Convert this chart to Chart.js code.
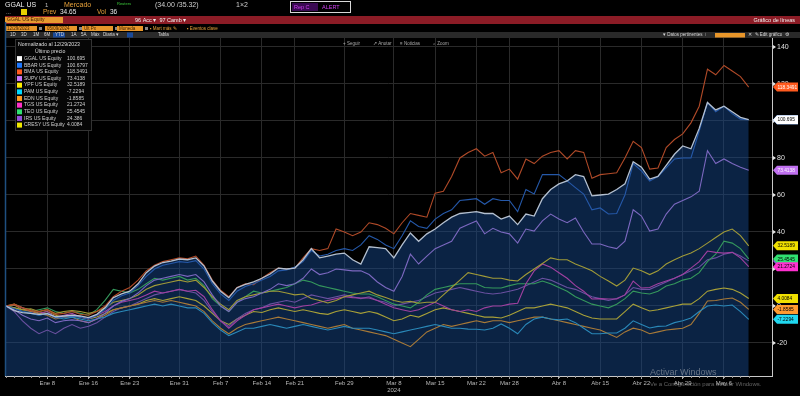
<!DOCTYPE html>
<html>
<head>
<meta charset="utf-8">
<script src="https://cdn.jsdelivr.net/npm/chart.js@4"></script>
<style>
  html, body { margin: 0; padding: 0; background: #000; }
  canvas { display: block; }
</style>
</head>
<body>
<canvas id="chart" width="800" height="396"></canvas>
<script>
// trading days, normalized at 12/29/2023
const dates = [
  'Dic 29', 'Ene 2', 'Ene 3', 'Ene 4', 'Ene 5', 'Ene 8', 'Ene 9', 'Ene 10', 'Ene 11', 'Ene 12',
  'Ene 16', 'Ene 17', 'Ene 18', 'Ene 19', 'Ene 22', 'Ene 23', 'Ene 24', 'Ene 25', 'Ene 26', 'Ene 29',
  'Ene 30', 'Ene 31', 'Feb 1', 'Feb 2', 'Feb 5', 'Feb 6', 'Feb 7', 'Feb 8', 'Feb 9', 'Feb 12',
  'Feb 13', 'Feb 14', 'Feb 15', 'Feb 16', 'Feb 20', 'Feb 21', 'Feb 22', 'Feb 23', 'Feb 26', 'Feb 27',
  'Feb 28', 'Feb 29', 'Mar 1', 'Mar 4', 'Mar 5', 'Mar 6', 'Mar 7', 'Mar 8', 'Mar 11', 'Mar 12',
  'Mar 13', 'Mar 14', 'Mar 15', 'Mar 18', 'Mar 19', 'Mar 20', 'Mar 21', 'Mar 22', 'Mar 25', 'Mar 26',
  'Mar 27', 'Mar 28', 'Abr 1', 'Abr 2', 'Abr 3', 'Abr 4', 'Abr 5', 'Abr 8', 'Abr 9', 'Abr 10',
  'Abr 11', 'Abr 12', 'Abr 15', 'Abr 16', 'Abr 17', 'Abr 18', 'Abr 19', 'Abr 22', 'Abr 23', 'Abr 24',
  'Abr 25', 'Abr 26', 'Abr 29', 'Abr 30', 'May 1', 'May 2', 'May 3', 'May 6', 'May 7', 'May 8', 'May 9'
];
const tickDates = ['Ene 8', 'Ene 16', 'Ene 23', 'Ene 31', 'Feb 7', 'Feb 14', 'Feb 21', 'Feb 29', 'Mar 8',
  'Mar 15', 'Mar 22', 'Mar 28', 'Abr 8', 'Abr 15', 'Abr 22', 'Abr 29', 'May 6'];
const yTicks = [-20, 0, 20, 40, 60, 80, 100, 120, 140];

const names = ['GGAL US Equity', 'BBAR US Equity', 'BMA US Equity', 'SUPV US Equity', 'YPF US Equity',
  'PAM US Equity', 'EDN US Equity', 'TGS US Equity', 'TEO US Equity', 'IRS US Equity', 'CRESY US Equity'];
const lastLabels = ['100.695', '100.6797', '118.3491', '73.4138', '32.5189', '-7.2294', '-1.8585',
  '21.2724', '25.4545', '24.386', '4.0084'];

const ggal = [0, -2.5, -3.6, -4, -4.5, -4.2, -5.9, -5.4, -5, -5.4,
  -6.3, -4.5, -1, 4.5, 6.5, 8, 12, 18, 21.6, 23.5,
  24.3, 25.4, 25, 26, 21.6, 13.5, 8, 4.5, 9.9, 11.7,
  13, 15, 17.3, 20.5, 20, 20.5, 25, 31, 26, 27,
  28, 28.6, 25, 22.7, 32, 31.5, 31, 26, 33, 39.5,
  35, 39, 41.6, 45, 48, 50, 50.5, 51, 50, 50,
  47, 48.6, 44, 49.7, 48.6, 58, 63, 66, 67.6, 71,
  70, 59.5, 60, 60.5, 63, 66, 78, 75, 68.6, 70,
  76, 82, 86.5, 85, 96, 110, 106, 108, 105, 102, 100.695];
const bbar = [0, -1.5, -3, -3.5, -5, -4, -6.5, -6, -5.5, -6,
  -7, -5, -2, 3, 5.5, 7, 11, 16, 20, 22,
  23, 24, 23.5, 24.5, 20, 12, 6.5, 3, 8, 10.5,
  12, 14, 16, 19, 19.5, 21, 24, 30, 27, 28,
  30, 31, 30, 33, 38, 36, 33, 31, 38, 46,
  43, 42, 47, 50, 52, 57, 57.5, 58, 55, 58,
  57, 57, 51, 63, 60.5, 71, 71, 71, 67.6, 64,
  60.5, 52, 53, 49.7, 50, 60, 77, 73, 67.6, 70,
  74.6, 79.5, 80, 80, 94.6, 110, 105, 108, 104, 101, 100.6797];
const bma = [0, 1, -1, -2.5, -3, -2, -4.5, -4, -3, -4.5,
  -5, -3, 0, 5, 8, 10, 14, 19, 22, 24,
  25, 26, 25.5, 27, 22, 14, 8.5, 5, 10, 12,
  11.5, 15, 18, 20.5, 20, 20.5, 26, 31, 30, 31,
  41.6, 40, 38, 40, 45, 44, 42, 39, 45, 50,
  49, 48, 61, 62, 70, 80, 83, 85, 81, 83,
  72, 74, 68.6, 79.5, 77, 81, 83, 84, 79.5, 84,
  83, 69, 71, 71.5, 72, 80, 89, 85.6, 74, 74.6,
  85.6, 90, 93, 99, 108, 128, 125, 130, 127, 124, 118.3491];
const supv = [0, -2, -5, -7, -8, -6.5, -9, -8, -7.5, -8,
  -9, -7, -4, 0, 2.5, 4, 7, 11, 14, 15,
  16, 17, 16, 17, 13, 6, 0, -3, 2, 4,
  5, 7, 9, 12, 11, 12, 15, 20, 17, 18,
  20, 19.5, 19, 19, 17, 13, 10, 8, 16, 28,
  22.7, 27, 31, 33, 35, 42, 44, 46, 39, 42,
  40, 39, 34, 41.6, 40.5, 46, 49.7, 47, 45, 47.6,
  40, 33.5, 33.5, 32, 31, 35, 52, 48.6, 40.5, 41.6,
  49.7, 55, 57, 59, 62, 84, 77, 79.5, 77, 75, 73.4138];
const ypf = [0, -1, -2, -1.5, -3, -2, -4, -3, -2.5, -3,
  -4, -3, -1, 2, 3, 4, 6, 9, 11, 12,
  13, 14, 13, 14, 10, 5, 1, -2, 3, 5,
  6, 7, 8, 8, 7, 6, 6.5, 4, 3, 1.6,
  3, 5, 6, 7, 8, 6, 4.6, 3, 2, 2.5,
  1.5, 2, 2, 6, 10, 14, 18, 17, 16, 15,
  15, 14, 13.5, 17, 20, 23, 26, 25, 25, 22.7,
  21, 19, 16, 13.5, 10.8, 14, 20.5, 19, 17, 19,
  22.7, 25, 27, 28.6, 31, 34, 37, 40, 41.6, 38, 32.5189];
const pam = [0, -1, -3, -4, -5, -4, -6, -7, -6, -7,
  -8, -7, -6, -4, -3, -2, -1, 0, 1, 0,
  1, 0, -1, -1, -4, -9, -13, -16, -14, -12,
  -12, -11, -10, -11, -12, -11, -10, -11, -12, -13,
  -12, -11, -12, -12, -12, -13, -14, -15, -14, -13,
  -12, -11, -10, -11, -12, -12, -12.5, -12.6, -13, -12,
  -9.7, -12, -15, -10, -7, -6, -7, -7.5, -7, -9,
  -12, -15, -15, -14.6, -14.6, -12, -8, -10, -11.9, -11,
  -10.8, -9, -8, -6.5, -3, 0, 0.5, 0, 0.5, -3, -7.2294];
const edn = [0, 0.5, -2, -3, -4, -5, -7, -6, -6, -8,
  -9, -7, -5, -2, -1, 0, 1, 2, 3, 2,
  3, 2, 1, 0, -3, -8, -12, -15, -12, -10,
  -9, -8, -7, -6, -7, -8, -9, -10, -11, -12,
  -11, -10, -12, -13, -14, -15, -16, -18, -20, -22,
  -18, -14, -12, -10, -11, -10, -9, -8, -9, -8,
  -8, -9, -8, -7, -6, -6, -7, -8, -9, -10,
  -11, -12, -13, -15, -17, -14, -12, -13, -15, -14,
  -13, -12.5, -12, -10, -4, 2.7, 3, 3.8, 4.3, 2, -1.8585];
const tgs = [0, 0.5, -1, -3, -4, -3, -6, -5, -4, -6,
  -7, -5, -3, 0, 2, 3, 4, 6, 8, 7,
  8, 9, 8, 8.5, 5, -2, -8, -12, -8, -5,
  -2, -1, 0, 1, 0, -1, 0, 0.5, 2, 3,
  4, 5, 4.5, 4.3, 4.3, 3, 1, -1, -2, -3,
  -2, 0, 2, 0, -2, -3, -2, -3, -1, 0,
  0, 1, 1.5, 12, 19, 22.7, 21, 18, 15, 11,
  8, 3.8, 4, 3.8, 3.8, 6, 13.5, 9.7, 10, 12,
  13.5, 15, 17, 20.5, 24, 29.7, 29, 28.6, 29, 26, 21.2724];
const teo = [0, -1, -2, -3, -2, -1, -3, -4, -3, -4,
  -5, -2, 3, 9, 8, 7, 9, 12, 15, 14,
  15, 16, 14, 15, 11, 4, 0, -3, 2, 5,
  8, 7, 8, 9, 10, 12, 14, 13, 11, 10,
  9, 8, 7, 6.5, 6.5, 5, 3, 1, 0, -1,
  2, 6, 9, 10, 11, 12, 12, 12, 10, 9.7,
  9.7, 11, 12, 12, 12, 13.5, 12, 10, 8, 5,
  3, 1, 0, -1, 1, 4, 8, 7, 6.5, 8,
  10.8, 12, 14, 15, 18, 24, 28, 35, 34, 31, 25.4545];
const irs = [0, -3, -8, -12, -15, -13, -15, -12, -10, -12,
  -11, -9, -6, -3, -1, 0, 2, 4, 6, 7,
  8, 9, 8, 7, 3, -3, -8, -11, -7, -4,
  -2, -1, 1, 2, 3, 2, 4, 6, 5, 4,
  5, 6, 5, 4, 5, 3, 2, 0, 1, 2,
  3, 5, 7, 8, 9, 10, 9, 8, 7, 6.5,
  7, 8, 9, 11, 13, 15, 14, 12, 10, 9,
  7, 5, 4, 3, 4, 6, 10, 9, 9, 11,
  13, 15, 17, 19, 21, 25, 26, 28, 29, 27, 24.386];
const cresy = [0, 1, -1, -2, -4, -3, -5, -6, -5, -6,
  -7, -6, -4, -2, -1, 0, 1, 3, 4, 3,
  4, 5, 4, 3, 0, -4, -8, -10, -7, -5,
  -3, -3.5, -2, -1, -2, -3, -2, -3, -4, -4.5,
  -3, -2, -3, -4, -3, -4, -6, -8, -7, -5,
  -6, -4, -2, -1, -2, -3, -4, -5, -6, -6,
  -6.5, -5, -3, -1, -1, 0, 1, 0, -1, -3,
  -5, -6.5, -7, -7, -7, -3, 1, -1, -2.7, -2,
  -1, 0, 1, 1, 4, 8, 9, 9.7, 9, 7, 4.0084];

const seriesList = [ggal, bbar, bma, supv, ypf, pam, edn, tgs, teo, irs, cresy];
const lineColors = ['#b4c0d0', '#2558a8', '#b04a28', '#7c68c0', '#a09a38', '#2a88b8',
  '#a87a38', '#a040a0', '#35985c', '#6a50a0', '#a8a038'];
const swatchColors = ['#ffffff', '#1e78ff', '#ff5a1e', '#c878ff', '#ffee00', '#00d8ff',
  '#ff9a1e', '#ff30c8', '#30e070', '#9650dc', '#f0e800'];
const tagColors = ['#ffffff', '#1e78ff', '#ff5a1e', '#c070f0', '#f0e000', '#20d8f0',
  '#ff9a30', '#ff30d0', '#30e070', '#9650dc', '#f0e000'];
const tagText = ['#000', '#fff', '#fff', '#fff', '#000', '#000', '#000', '#000', '#000', '#fff', '#000'];
const tagOrder = [1, 9, 0, 2, 3, 4, 8, 7, 10, 6, 5];

const FONT = "'Liberation Sans', Arial, sans-serif";

function txt(c, s, x, y, color, size, align) {
  c.fillStyle = color;
  c.font = size + 'px ' + FONT;
  c.textAlign = align || 'left';
  c.textBaseline = 'middle';
  c.fillText(s, x, y);
}

const bbgPlugin = {
  id: 'bbg',
  beforeDraw(chart) {
    const c = chart.ctx;
    c.save();
    c.fillStyle = '#000';
    c.fillRect(0, 0, chart.width, chart.height);
    c.restore();
  },
  afterDraw(chart) {
    const c = chart.ctx;
    const area = chart.chartArea;
    const xs = chart.scales.x, ys = chart.scales.y;
    c.save();

    // header row 1
    txt(c, 'GGAL US', 5, 5, '#f0f0f0', 7);
    txt(c, '1', 45, 5, '#bbb', 6);
    txt(c, 'Mercado', 64, 5, '#e8a23a', 7);
    txt(c, 'Reuters', 117, 3.5, '#3ccc3c', 4);
    txt(c, '(34.00 /35.32)', 155, 5, '#d0d0d0', 7);
    txt(c, '1×2', 236, 5, '#d0d0d0', 7);
    c.strokeStyle = '#d8d8d8';
    c.lineWidth = 1;
    c.strokeRect(290.5, 1.5, 60, 11);
    c.fillStyle = '#3a0a52';
    c.fillRect(292, 3, 26, 8);
    txt(c, 'Rep C', 294, 7, '#d040f0', 5.5);
    txt(c, 'ALERT', 322, 7, '#d040f0', 5.5);

    // header row 2
    txt(c, '...', 6, 12, '#ddd', 6);
    c.fillStyle = '#e8d000';
    c.fillRect(21, 9, 6, 6);
    txt(c, 'Prev', 43, 12.5, '#e8a23a', 6.5);
    txt(c, '34.65', 60, 12.5, '#e8e8e8', 6.5);
    txt(c, 'Vol', 97, 12.5, '#e8a23a', 6.5);
    txt(c, '36', 110, 12.5, '#e8e8e8', 6.5);

    // red bar
    c.fillStyle = '#8c1c26';
    c.fillRect(5, 16, 795, 8);
    c.fillStyle = '#e89a30';
    c.fillRect(5, 17, 58, 6);
    txt(c, 'GGAL US Equity', 7, 20, '#3a1e00', 5);
    txt(c, '96 Acc ▾  97 Camb ▾', 135, 20, '#f0f0f0', 5.5);
    txt(c, 'Gráfico de líneas', 795, 20, '#f0f0f0', 5.5, 'right');

    // input row
    const boxes = [[5, 32, '12/29/2023'], [45, 32, '05/09/2024'], [82, 31, 'Últ Px'], [117, 26, 'Moneda']];
    boxes.forEach(b => {
      c.fillStyle = '#e8962a';
      c.fillRect(b[0], 26, b[1], 5);
      txt(c, b[2], b[0] + 2, 28.6, '#3a1e00', 4.5);
      c.fillStyle = '#888';
      c.fillRect(b[0] + b[1] + 2, 27, 3, 3);
    });
    txt(c, '▪ Mart más ✎', 150, 28.6, '#e8a23a', 4.5);
    txt(c, '▪ Eventos clave', 187, 28.6, '#e8a23a', 4.5);

    // grey toolbar
    c.fillStyle = '#2a2a2a';
    c.fillRect(5, 32, 795, 6);
    c.fillStyle = '#1a4a9a';
    c.fillRect(53, 32.5, 12, 5);
    c.fillRect(127, 32.5, 6, 5);
    const btns = [['1D', 10], ['3D', 21], ['1M', 33], ['6M', 44], ['YTD', 55], ['1A', 71], ['5A', 81],
      ['Máx', 91], ['Diaria ▾', 103], ['Tabla', 158]];
    btns.forEach(b => txt(c, b[0], b[1], 35, '#d8d8d8', 4.5));
    txt(c, '▾ Datos pertinentes  ⁝', 663, 35, '#d8d8d8', 4.5);
    c.fillStyle = '#e8962a';
    c.fillRect(715, 33, 30, 4.5);
    txt(c, '✕  ✎ Edit gráfico  ⚙', 748, 35, '#d8d8d8', 4.5);

    // chart toolbar
    txt(c, '+ Seguir', 343, 43.5, '#aaa', 4.5);
    txt(c, '↗ Anotar', 373, 43.5, '#aaa', 4.5);
    txt(c, '≡ Noticias', 400, 43.5, '#aaa', 4.5);
    txt(c, '⌕ Zoom', 433, 43.5, '#aaa', 4.5);

    // left border
    c.strokeStyle = '#1f4f80';
    c.lineWidth = 1.5;
    c.beginPath();
    c.moveTo(area.left + 0.5, 22);
    c.lineTo(area.left + 0.5, area.bottom);
    c.stroke();

    // daily minor ticks on x axis
    c.strokeStyle = '#999';
    c.lineWidth = 1;
    dates.forEach((d, i) => {
      const x = Math.round(xs.getPixelForValue(i)) + 0.5;
      c.beginPath();
      c.moveTo(x, area.bottom);
      c.lineTo(x, area.bottom + 2);
      c.stroke();
    });

    // y tick markers
    c.fillStyle = '#e0e0e0';
    yTicks.forEach(v => {
      const y = ys.getPixelForValue(v);
      c.beginPath();
      c.moveTo(area.right + 1, y - 2);
      c.lineTo(area.right + 4, y);
      c.lineTo(area.right + 1, y + 2);
      c.fill();
    });

    // legend box
    c.fillStyle = '#060606';
    c.fillRect(15, 39, 77, 92);
    c.strokeStyle = '#333';
    c.strokeRect(15.5, 39.5, 76, 91);
    txt(c, 'Normalizado al 12/29/2023', 18, 45, '#ddd', 5.2);
    txt(c, 'Último precio', 35, 51.5, '#ddd', 5.2);
    names.forEach((n, k) => {
      const y = 58.5 + k * 6.65;
      c.fillStyle = swatchColors[k];
      c.fillRect(17, y - 2.4, 5, 5);
      txt(c, n, 24, y, '#d0d0d0', 5);
      txt(c, lastLabels[k], 67, y, '#d0d0d0', 5);
    });

    // last value tags
    tagOrder.forEach(k => {
      const vals = seriesList[k];
      const y = ys.getPixelForValue(vals[vals.length - 1]);
      const x0 = area.right + 1, x1 = 798;
      c.fillStyle = tagColors[k];
      c.beginPath();
      c.moveTo(x0, y);
      c.lineTo(x0 + 4, y - 4.5);
      c.lineTo(x1, y - 4.5);
      c.lineTo(x1, y + 4.5);
      c.lineTo(x0 + 4, y + 4.5);
      c.closePath();
      c.fill();
      txt(c, lastLabels[k], x0 + 4.5, y + 0.3, tagText[k], 4.8);
    });

    // watermark
    txt(c, 'Activar Windows', 650, 373, 'rgba(210,210,210,0.45)', 9);
    txt(c, 'Ve a Configuración para activar Windows.', 650, 384, 'rgba(210,210,210,0.45)', 6);

    c.restore();
  }
};

const datasets = seriesList.map((vals, k) => ({
  label: names[k],
  data: vals.map((v, i) => ({ x: i, y: v })),
  borderColor: lineColors[k],
  borderWidth: k === 0 ? 1.3 : 1.1,
  pointRadius: 0,
  tension: 0,
  fill: k === 0 ? 'start' : false,
  backgroundColor: k === 0 ? 'rgba(22,70,135,0.5)' : 'transparent'
}));

const ctx = document.getElementById('chart').getContext('2d');
new Chart(ctx, {
  type: 'line',
  data: { datasets: datasets },
  options: {
    responsive: false,
    animation: false,
    layout: { padding: { left: 5, top: 38, right: 0, bottom: 0 } },
    plugins: {
      legend: { display: false },
      tooltip: { enabled: false },
      filler: { drawTime: 'beforeDatasetsDraw' }
    },
    scales: {
      x: {
        type: 'linear',
        min: -0.121,
        max: 92.82,
        afterBuildTicks(scale) {
          scale.ticks = tickDates.map(d => ({ value: dates.indexOf(d) }));
        },
        afterFit(scale) { scale.height = 20; },
        ticks: {
          autoSkip: false,
          maxRotation: 0,
          padding: 1,
          color: '#b8b8b8',
          font: { family: FONT, size: 6 },
          callback(v) {
            const d = dates[v];
            return d === 'Mar 8' ? ['Mar 8', '2024'] : d;
          }
        },
        grid: { color: '#2a2a2a', lineWidth: 1, tickLength: 3, tickColor: '#aaa' },
        border: { color: '#c8c8c8', width: 1 }
      },
      y: {
        position: 'right',
        min: -37.84,
        max: 144.86,
        afterBuildTicks(scale) {
          scale.ticks = yTicks.map(v => ({ value: v }));
        },
        afterFit(scale) { scale.width = 28; },
        ticks: {
          padding: 2,
          color: '#e0e0e0',
          font: { family: FONT, size: 7 },
          callback(v) { return String(v); }
        },
        grid: { color: '#2a2a2a', lineWidth: 1, tickLength: 3, tickColor: '#ccc' },
        border: { color: '#c8c8c8', width: 1 }
      }
    }
  },
  plugins: [bbgPlugin]
});
</script>
</body>
</html>
